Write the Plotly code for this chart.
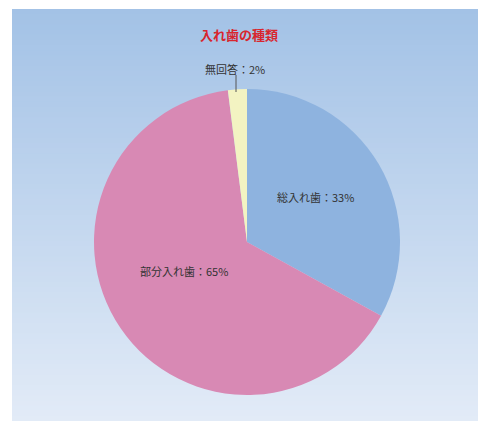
import plotly.graph_objects as go

labels = ["総入れ歯", "部分入れ歯", "無回答"]
values = [33, 65, 2]
colors = ["#8EB3DF", "#D889B4", "#F3F3C2"]
title_text = "入れ歯の種類"

W, H = 480, 421
FONT = "Noto Sans CJK JP"

fig = go.Figure()
fig.add_trace(go.Pie(
    labels=labels,
    values=values,
    sort=False,
    direction="clockwise",
    rotation=0,
    marker=dict(colors=colors, line=dict(width=0)),
    textinfo="none",
    showlegend=False,
    hoverinfo="label+percent",
    domain=dict(x=[94 / W, 400 / W], y=[1 - 395 / H, 1 - 89 / H]),
))

# gradient background frame
shapes = []
x0, x1 = 12 / W, 478 / W
top_px, bot_px = 9, 421
n = 80
c_top = (163, 194, 230)
c_bot = (226, 235, 247)
for i in range(n):
    t = i / (n - 1)
    r = round(c_top[0] + (c_bot[0] - c_top[0]) * t)
    g = round(c_top[1] + (c_bot[1] - c_top[1]) * t)
    b = round(c_top[2] + (c_bot[2] - c_top[2]) * t)
    ya = top_px + (bot_px - top_px) * i / n
    shapes.append(dict(type="rect", xref="paper", yref="paper", layer="below",
                       x0=x0, x1=x1, y0=0, y1=1 - ya / H,
                       line=dict(width=0), fillcolor=f"rgb({r},{g},{b})"))

total = sum(values)
label_pos = [(315, 197), (184, 271), (235, 69)]
annotations = []
for lab, v, (px, py) in zip(labels, values, label_pos):
    annotations.append(dict(
        text=f"{lab}：{round(100 * v / total)}%",
        x=px / W, y=1 - py / H, xref="paper", yref="paper",
        xanchor="center", yanchor="middle", showarrow=False,
        font=dict(family=FONT, size=11, color="#333333"),
    ))
# leader line for the small slice
shapes.append(dict(type="line", xref="paper", yref="paper",
                   x0=236 / W, x1=236 / W, y0=1 - 92 / H, y1=1 - 75 / H,
                   line=dict(color="#555555", width=1)))

fig.update_layout(
    width=W, height=H,
    margin=dict(l=0, r=0, t=0, b=0),
    paper_bgcolor="white",
    shapes=shapes,
    annotations=annotations,
    title=dict(text=f"<b>{title_text}</b>", x=239 / W, xanchor="center",
               y=1 - 35 / H, yanchor="middle",
               font=dict(family=FONT, size=13, color="#D8262E")),
)

fig.write_html("out.html", config={"displayModeBar": False},
               post_script="document.body.style.margin='0';")
